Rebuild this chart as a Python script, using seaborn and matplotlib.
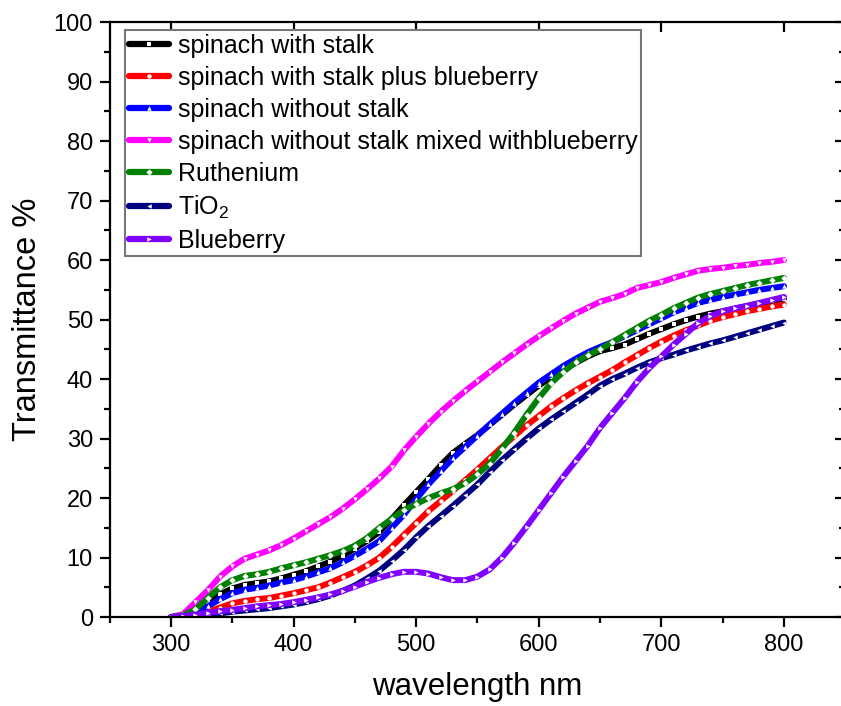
import numpy as np
import pandas as pd
import seaborn as sns
import matplotlib
matplotlib.use("Agg")
import matplotlib.pyplot as plt
from matplotlib.ticker import MultipleLocator, FixedLocator

wavelength = list(range(300, 801, 10))

spinach_with_stalk = [0, 0.2, 1.0, 2.5, 3.8, 4.8, 5.4, 5.7, 6.0, 6.5, 7.1, 7.7, 8.5, 9.3, 10.3, 11.5,
                      12.8, 14.3, 16.5, 18.8, 21.0, 23.2, 25.5, 27.6, 29.1, 30.6, 32.3, 34.0, 35.7, 37.3,
                      38.9, 40.3, 41.6, 42.7, 43.8, 44.7, 45.2, 45.8, 46.7, 47.6, 48.4, 49.2, 49.9, 50.5,
                      51.0, 51.4, 51.8, 52.3, 52.7, 53.1, 53.5]
spinach_stalk_blueberry = [0, 0.1, 0.3, 0.9, 1.6, 2.3, 2.7, 3.0, 3.2, 3.6, 4.0, 4.5, 5.0, 5.8, 6.7, 7.6,
                           8.7, 10.0, 11.8, 13.8, 15.8, 17.8, 19.5, 21.2, 23.0, 24.8, 26.7, 28.6, 30.4, 32.2,
                           33.8, 35.4, 36.8, 38.1, 39.3, 40.4, 41.5, 42.8, 44.0, 45.2, 46.3, 47.3, 48.2, 49.0,
                           49.8, 50.4, 50.9, 51.4, 51.8, 52.2, 52.5]
spinach_without_stalk = [0, 0.1, 0.6, 1.8, 3.0, 4.0, 4.6, 4.9, 5.3, 5.8, 6.2, 6.8, 7.5, 8.2, 9.2, 10.3,
                         11.5, 12.8, 15.0, 17.2, 19.8, 22.3, 24.5, 26.7, 28.6, 30.5, 32.4, 34.2, 36.0, 37.7,
                         39.4, 40.8, 42.2, 43.4, 44.5, 45.4, 46.2, 47.2, 48.2, 49.2, 50.2, 51.2, 52.0, 52.8,
                         53.3, 53.8, 54.2, 54.6, 55.0, 55.3, 55.6]
spinach_without_stalk_blueberry = [0, 0.5, 2.5, 4.5, 6.8, 8.5, 9.8, 10.5, 11.2, 12.1, 13.2, 14.4, 15.6, 16.8,
                                   18.2, 19.8, 21.5, 23.3, 25.3, 28.0, 30.3, 32.5, 34.5, 36.3, 38.0, 39.6,
                                   41.2, 42.8, 44.3, 45.8, 47.2, 48.5, 49.8, 51.0, 52.0, 53.0, 53.6, 54.3,
                                   55.3, 55.8, 56.3, 57.0, 57.6, 58.2, 58.5, 58.7, 59.0, 59.2, 59.5, 59.7, 60.0]
ruthenium = [0, 0.3, 1.3, 3.2, 5.0, 6.2, 6.9, 7.2, 7.6, 8.2, 8.7, 9.2, 9.8, 10.4, 11.1, 12.0,
             13.3, 15.0, 16.5, 18.0, 19.0, 20.0, 20.8, 21.5, 22.5, 24.0, 25.8, 28.3, 31.0, 34.0,
             36.8, 39.3, 41.2, 42.8, 44.0, 45.0, 46.2, 47.4, 48.6, 49.8, 50.8, 51.9, 52.8, 53.7,
             54.3, 54.8, 55.3, 55.8, 56.2, 56.6, 57.0]
tio2 = [0, 0, 0.1, 0.3, 0.6, 0.9, 1.1, 1.3, 1.5, 1.8, 2.1, 2.5, 3.0, 3.6, 4.4, 5.3,
        6.5, 7.8, 9.5, 11.3, 13.4, 15.3, 17.0, 18.7, 20.5, 22.3, 24.4, 26.4, 28.2, 30.0,
        31.7, 33.2, 34.6, 36.0, 37.4, 38.9, 40.0, 40.9, 41.9, 42.8, 43.5, 44.1, 44.8, 45.4,
        46.0, 46.5, 47.1, 47.7, 48.3, 48.9, 49.5]
blueberry = [0, 0.2, 0.4, 0.7, 1.0, 1.2, 1.5, 1.8, 2.0, 2.2, 2.5, 2.9, 3.3, 3.8, 4.4, 5.1,
             5.9, 6.6, 7.2, 7.6, 7.6, 7.3, 6.7, 6.2, 6.2, 6.8, 8.0, 10.0, 12.5, 15.2,
             18.0, 20.8, 23.6, 26.2, 28.8, 31.8, 34.3, 36.8, 39.5, 41.8, 43.8, 45.8, 47.6, 49.4,
             50.6, 51.4, 51.9, 52.3, 52.8, 53.3, 53.8]

labels = ["spinach with stalk", "spinach with stalk plus blueberry", "spinach without stalk",
          "spinach without stalk mixed withblueberry", "Ruthenium", "TiO$_2$", "Blueberry"]
series = [spinach_with_stalk, spinach_stalk_blueberry, spinach_without_stalk,
          spinach_without_stalk_blueberry, ruthenium, tio2, blueberry]
colors = ["#000000", "#FF0000", "#0000FF", "#FF00FF", "#008000", "#000080", "#8000FF"]
markers = ["s", "o", "^", "v", "D", "<", ">"]

sns.set_style("ticks")
plt.rcParams["font.family"] = ["Liberation Sans", "DejaVu Sans"]
plt.rcParams["mathtext.default"] = "regular"
plt.rcParams["text.color"] = "black"
plt.rcParams["axes.labelcolor"] = "black"
plt.rcParams["xtick.color"] = "black"
plt.rcParams["ytick.color"] = "black"

fig = plt.figure(figsize=(8.41, 7.06), dpi=100)
ax = fig.add_axes([0.1304, 0.126, 0.8747, 0.8428])

for lab, vals, c, m in zip(labels, series, colors, markers):
    df = pd.DataFrame({"wavelength": wavelength, "T": vals})
    sns.lineplot(data=df, x="wavelength", y="T", ax=ax, color=c, linewidth=4.3,
                 marker=m, markersize=3.2, markerfacecolor="white", markeredgecolor="white",
                 markeredgewidth=0, label=lab)

ax.set_xlim(250, 850)
ax.set_ylim(0, 100)
ax.xaxis.set_major_locator(FixedLocator([300, 400, 500, 600, 700, 800]))
ax.xaxis.set_minor_locator(FixedLocator([250, 350, 450, 550, 650, 750, 850]))
ax.yaxis.set_major_locator(MultipleLocator(10))
ax.yaxis.set_minor_locator(MultipleLocator(5))

for s in ax.spines.values():
    s.set_linewidth(1.6)
    s.set_color("black")

ax.tick_params(axis="both", which="major", direction="out", length=7, width=1.6,
               labelsize=17, colors="black", pad=5)
ax.tick_params(axis="both", which="minor", direction="out", length=4, width=1.6)
ax.tick_params(axis="x", which="major", top=True, labeltop=False)
ax.tick_params(axis="y", which="both", right=True, labelright=False)
for t in ax.xaxis.get_major_ticks():
    t.tick2line.set_marker(matplotlib.lines.TICKDOWN)
for t in ax.yaxis.get_major_ticks() + ax.yaxis.get_minor_ticks():
    t.tick2line.set_marker(matplotlib.lines.TICKLEFT)

ax.set_xlabel("wavelength nm", fontsize=22.5, labelpad=12)
ax.set_ylabel("Transmittance %", fontsize=23.5, labelpad=8)

leg = ax.legend(loc="upper left", bbox_to_anchor=(0.021, 0.987), borderaxespad=0,
                fontsize=18, frameon=True, fancybox=False, framealpha=1,
                edgecolor="#777777", handlelength=1.6, handletextpad=0.35,
                labelspacing=0.32, borderpad=0.15, numpoints=1)
leg.get_frame().set_linewidth(1.5)
for line in leg.get_lines():
    line.set_linewidth(4.5)

fig.savefig("out.png", dpi=100)
